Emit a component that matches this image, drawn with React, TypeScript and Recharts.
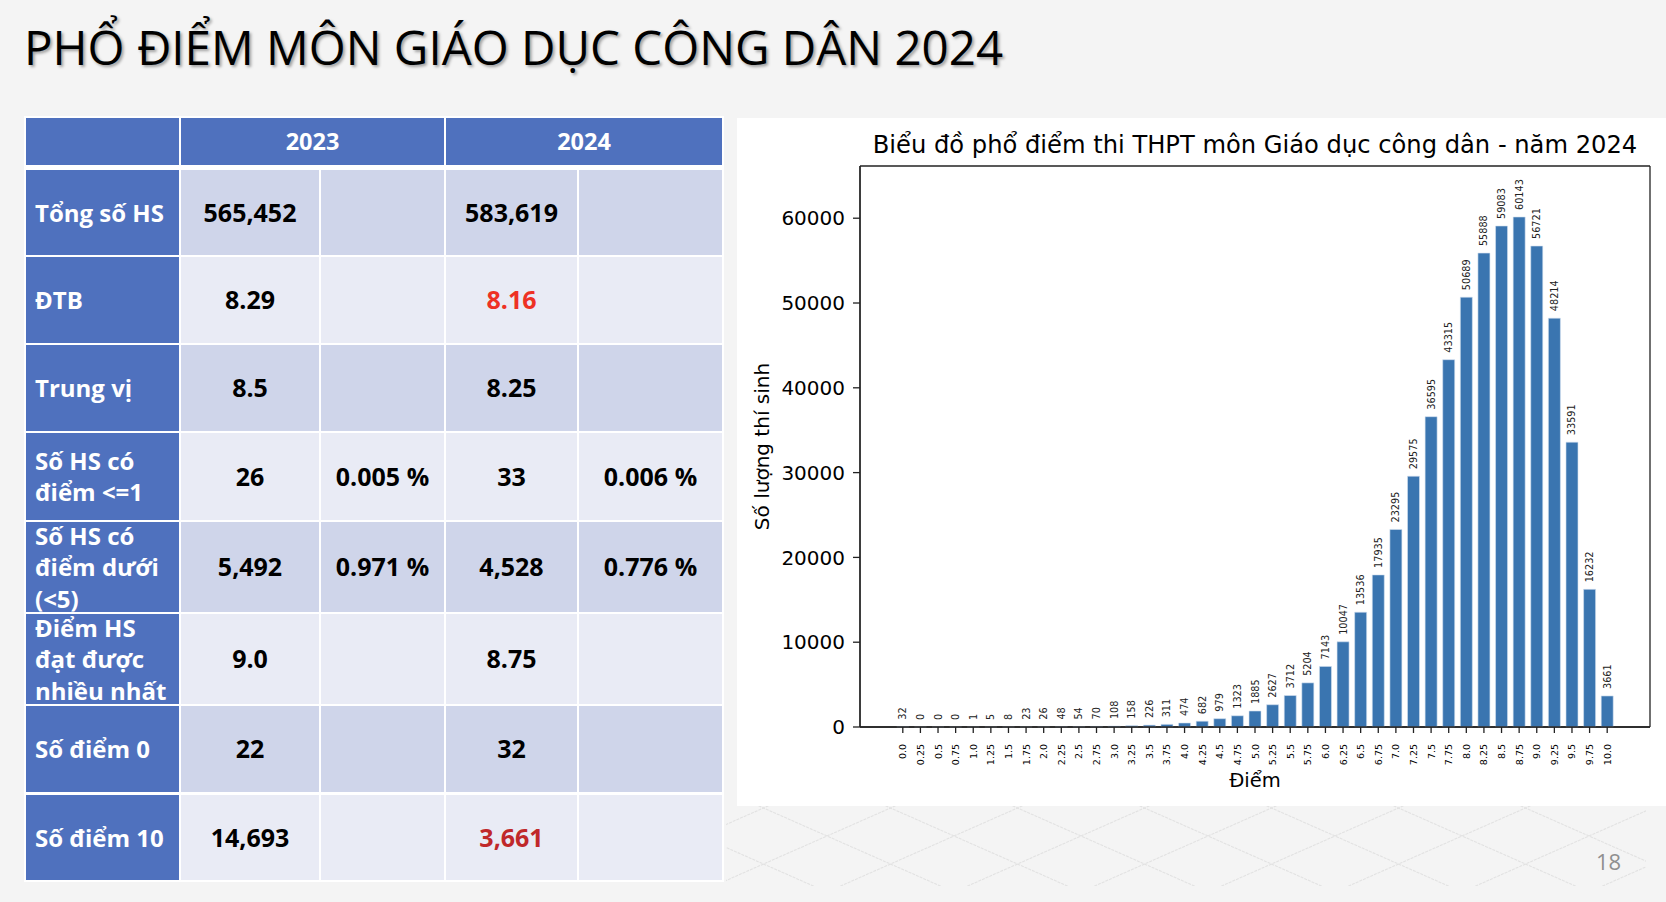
import React from "react";
import { BarChart, Bar, XAxis, YAxis, LabelList, Label, CartesianGrid } from "recharts";

// chart data
const scores = [
  "0.0", "0.25", "0.5", "0.75", "1.0", "1.25", "1.5", "1.75", "2.0", "2.25",
  "2.5", "2.75", "3.0", "3.25", "3.5", "3.75", "4.0", "4.25", "4.5", "4.75",
  "5.0", "5.25", "5.5", "5.75", "6.0", "6.25", "6.5", "6.75", "7.0", "7.25",
  "7.5", "7.75", "8.0", "8.25", "8.5", "8.75", "9.0", "9.25", "9.5", "9.75", "10.0",
];
const counts = [
  32, 0, 0, 0, 1, 5, 8, 23, 26, 48,
  54, 70, 108, 158, 226, 311, 474, 682, 979, 1323,
  1885, 2627, 3712, 5204, 7143, 10047, 13536, 17935, 23295, 29575,
  36595, 43315, 50689, 55888, 59083, 60143, 56721, 48214, 33591, 16232, 3661,
];
const yTicks = [0, 10000, 20000, 30000, 40000, 50000, 60000];

// table data
const rowLabels = [
  "Tổng số HS",
  "ĐTB",
  "Trung vị",
  "Số HS có\nđiểm <=1",
  "Số HS có\nđiểm dưới\n(<5)",
  "Điểm HS\nđạt được\nnhiều nhất",
  "Số điểm 0",
  "Số điểm 10",
];
const values2023 = ["565,452", "8.29", "8.5", "26", "5,492", "9.0", "22", "14,693"];
const pct2023 = ["", "", "", "0.005 %", "0.971 %", "", "", ""];
const values2024 = ["583,619", "8.16", "8.25", "33", "4,528", "8.75", "32", "3,661"];
const pct2024 = ["", "", "", "0.006 %", "0.776 %", "", "", ""];
const years = ["2023", "2024"];

const chartData = scores.map((s, i) => ({ score: s, count: counts[i] }));

const MPL = "'DejaVu Sans', sans-serif";
const TBL = "'Open Sans', 'Noto Sans', sans-serif";
const BLUE = "#4f71be";
const DARK = "#cfd5ea";
const LIGHT = "#e9ebf5";

const rowTops = [170, 257, 345, 433, 522, 614, 706, 795];
const rowHeights = [85, 86, 86, 86.5, 89.5, 89.5, 86, 85];
const colLefts = [26, 181, 321, 446, 579];
const colWidths = [153, 138, 123, 131, 143];

const valueColor = (v: string) => {
  if (v === "8.16") return "#ee3124";
  if (v === "3,661") return "#c0282a";
  return "#000";
};

const XTick = (props: any) => {
  const { x, y, payload } = props;
  return (
    <text
      transform={`translate(${x},${y}) rotate(-90)`}
      textAnchor="end"
      dominantBaseline="central"
      fontSize={9.5}
      fontFamily={MPL}
      fill="#000"
    >
      {payload.value}
    </text>
  );
};

const renderValue = (props: any) => {
  const { x, y, width, value } = props;
  const cx = Number(x) + Number(width) / 2;
  const cy = Number(y) - 7;
  return (
    <text
      transform={`translate(${cx},${cy}) rotate(-90)`}
      textAnchor="start"
      dominantBaseline="central"
      fontSize={9.7}
      fontFamily={MPL}
      fill="#222"
    >
      {value}
    </text>
  );
};

const renderYLabel = (props: any) => {
  const vb = props.viewBox;
  const cx = vb.x + 2;
  const cy = vb.y + vb.height / 2;
  return (
    <text
      transform={`translate(${cx},${cy}) rotate(-90)`}
      textAnchor="middle"
      dominantBaseline="central"
      fontSize={20}
      fontFamily={MPL}
      fill="#000"
    >
      Số lượng thí sinh
    </text>
  );
};

// frame around the plot area, like matplotlib spines
const frameH = ({ offset }: any) => [offset.top, offset.top + offset.height];
const frameV = ({ offset }: any) => [offset.left, offset.left + offset.width];

const Cell = ({ left, top, width, height, bg, children, color, align, size }: any) => (
  <div
    style={{
      position: "absolute",
      left,
      top,
      width,
      height,
      background: bg,
      display: "flex",
      alignItems: "center",
      justifyContent: align === "left" ? "flex-start" : "center",
      paddingLeft: align === "left" ? 9 : 0,
      boxSizing: "border-box",
      color,
      fontFamily: TBL,
      fontWeight: 700,
      fontSize: size,
      lineHeight: "31.5px",
      whiteSpace: "pre-line",
    }}
  >
    {children}
  </div>
);

const StatTable = () => {
  const cells: any[] = [];
  cells.push(<Cell key="h0" left={26} top={118} width={153} height={47} bg={BLUE} />);
  cells.push(
    <Cell key="h1" left={181} top={118} width={263} height={47} bg={BLUE} color="#fff" size={23.5}>
      {years[0]}
    </Cell>
  );
  cells.push(
    <Cell key="h2" left={446} top={118} width={276} height={47} bg={BLUE} color="#fff" size={23.5}>
      {years[1]}
    </Cell>
  );
  rowLabels.forEach((label, r) => {
    const bg = r % 2 === 0 ? DARK : LIGHT;
    const vals = [values2023[r], pct2023[r], values2024[r], pct2024[r]];
    cells.push(
      <Cell key={`l${r}`} left={colLefts[0]} top={rowTops[r]} width={colWidths[0]} height={rowHeights[r]} bg={BLUE} color="#fff" align="left" size={24}>
        {label}
      </Cell>
    );
    vals.forEach((v, c) => {
      cells.push(
        <Cell key={`c${r}-${c}`} left={colLefts[c + 1]} top={rowTops[r]} width={colWidths[c + 1]} height={rowHeights[r]} bg={bg} color={valueColor(v)} size={25}>
          {v}
        </Cell>
      );
    });
  });
  return (
    <>
      <div style={{ position: "absolute", left: 24, top: 116, width: 700, height: 766, background: "#fff" }} />
      {cells}
    </>
  );
};

const Pattern = () => {
  const lines: any[] = [];
  for (let k = -8; k < 10; k++) {
    const x0 = 700 + k * 127;
    lines.push(<line key={`a${k}`} x1={x0} y1={780} x2={x0 + 254} y2={892} />);
    lines.push(<line key={`b${k}`} x1={x0 + 254} y1={780} x2={x0} y2={892} />);
  }
  return (
    <svg style={{ position: "absolute", left: 0, top: 0 }} width={1666} height={902}>
      <defs>
        <clipPath id="pclip">
          <rect x={726} y={806} width={920} height={80} />
        </clipPath>
      </defs>
      <g clipPath="url(#pclip)" stroke="#e2e2e2" strokeWidth={1.1} strokeDasharray="3 1">
        {lines}
      </g>
    </svg>
  );
};

const App = () => {
  const axisStroke = { stroke: "#222", strokeWidth: 1.3 };
  return (
    <div
      style={{
        position: "absolute",
        left: 0,
        top: 0,
        width: 1666,
        height: 902,
        background: "#f4f4f4",
        overflow: "hidden",
      }}
    >
      <Pattern />
      <div
        style={{
          position: "absolute",
          left: 24,
          top: 17,
          fontFamily: TBL,
          fontWeight: 400,
          fontSize: 47.5,
          lineHeight: "60px",
          color: "#000",
          whiteSpace: "nowrap",
          textShadow: "2px 2px 3px rgba(0,0,0,0.35)",
        }}
      >
        PHỔ ĐIỂM MÔN GIÁO DỤC CÔNG DÂN 2024
      </div>

      <StatTable />

      <div style={{ position: "absolute", left: 737, top: 118, width: 929, height: 688, background: "#fff" }} />
      <div
        style={{
          position: "absolute",
          left: 860,
          top: 133,
          width: 790,
          textAlign: "center",
          fontFamily: MPL,
          fontSize: 24.2,
          lineHeight: "24px",
          color: "#000",
          whiteSpace: "nowrap",
        }}
      >
        Biểu đồ phổ điểm thi THPT môn Giáo dục công dân - năm 2024
      </div>
      <div style={{ position: "absolute", left: 737, top: 118 }}>
        <BarChart
          width={929}
          height={688}
          data={chartData}
          margin={{ top: 48, right: 16, bottom: 19, left: 23 }}
          barCategoryGap="16%"
        >
          <CartesianGrid
            stroke="#222"
            strokeWidth={1.3}
            horizontalCoordinatesGenerator={frameH}
            verticalCoordinatesGenerator={frameV}
          />
          <XAxis
            dataKey="score"
            interval={0}
            height={60}
            tickSize={6}
            tickMargin={11}
            tick={<XTick />}
            axisLine={axisStroke}
            tickLine={axisStroke}
            padding={{ left: 34, right: 34 }}
          >
            <Label
              value="Điểm"
              position="insideBottom"
              offset={0}
              style={{ fontSize: 19.5, fontFamily: MPL, fill: "#000" }}
            />
          </XAxis>
          <YAxis
            domain={[0, 66157]}
            ticks={yTicks}
            width={100}
            tickSize={7}
            tickMargin={8}
            axisLine={axisStroke}
            tickLine={axisStroke}
            tick={{ fontSize: 20, fontFamily: MPL, fill: "#000" }}
          >
            <Label content={renderYLabel} />
          </YAxis>
          <Bar
            dataKey="count"
            fill="#3a75b0"
            stroke="#d3e1f0"
            strokeWidth={0.6}
            minPointSize={0.1}
            isAnimationActive={false}
          >
            <LabelList dataKey="count" content={renderValue} />
          </Bar>
        </BarChart>
      </div>

      <div
        style={{
          position: "absolute",
          left: 1596,
          top: 846,
          fontFamily: TBL,
          fontSize: 22,
          color: "#8f8f8f",
        }}
      >
        18
      </div>
    </div>
  );
};

export default App;
